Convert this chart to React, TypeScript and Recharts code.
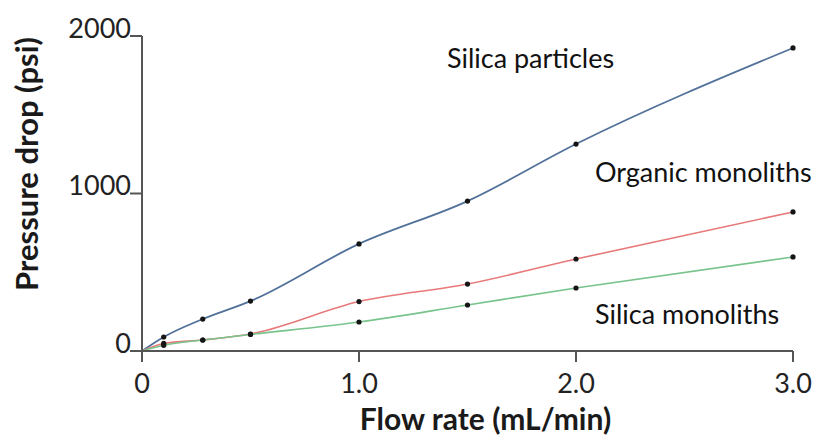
import React from "react";
import {
  LineChart,
  Line,
  XAxis,
  YAxis,
  ReferenceDot,
} from "recharts";

const flowRates = [0, 0.1, 0.28, 0.5, 1.0, 1.5, 2.0, 3.0];
const silicaParticles = [0, 89, 203, 317, 680, 952, 1314, 1924];
const organicMonoliths = [0, 48, 70, 108, 314, 425, 584, 883];
const silicaMonoliths = [0, 36, 70, 105, 184, 292, 400, 597];

const xTicks = [0, 1, 2, 3];
const yTicks = [0, 1000, 2000];

const annotations = [
  { text: "Silica particles", x: 1.405, y: 1865 },
  { text: "Organic monoliths", x: 2.087, y: 1140 },
  { text: "Silica monoliths", x: 2.087, y: 240 },
];

const data = flowRates.map((f, i) => ({
  flow: f,
  particles: silicaParticles[i],
  organic: organicMonoliths[i],
  silica: silicaMonoliths[i],
}));

const FONT = "Lato, 'Open Sans', sans-serif";
const AXIS = "#555";

const Dot = (props: any) => {
  const { cx, cy, payload } = props;
  if (payload.flow === 0) return <g />;
  return <circle cx={cx} cy={cy} r={2.6} fill="#151515" />;
};

const YTick = (props: any) => {
  const { x, y, payload } = props;
  return (
    <text
      x={x + 3}
      y={y - 9}
      textAnchor="end"
      dominantBaseline="central"
      fontSize={27}
      fontFamily={FONT}
      fill="#222"
    >
      {payload.value}
    </text>
  );
};

const XTick = (props: any) => {
  const { x, y, payload } = props;
  return (
    <text
      x={x}
      y={y + 18}
      textAnchor="middle"
      dominantBaseline="central"
      fontSize={27}
      fontFamily={FONT}
      fill="#222"
    >
      {payload.value === 0 ? "0" : payload.value.toFixed(1)}
    </text>
  );
};

const NoteLabel = (text: string) => (props: any) => {
  const { viewBox } = props;
  return (
    <text
      x={viewBox.cx ?? viewBox.x}
      y={viewBox.cy ?? viewBox.y}
      dominantBaseline="central"
      fontSize={27}
      fontFamily={FONT}
      fill="#111"
    >
      {text}
    </text>
  );
};

const XTitle = (props: any) => {
  const { viewBox } = props;
  return (
    <text
      x={viewBox.x + viewBox.width / 2 + 18}
      y={viewBox.y + 67}
      textAnchor="middle"
      dominantBaseline="central"
      fontSize={30}
      fontWeight="bold"
      fontFamily={FONT}
      fill="#1a1a1a"
    >
      Flow rate (mL/min)
    </text>
  );
};

const YTitle = (props: any) => {
  const { viewBox } = props;
  const cx = 26;
  const cy = viewBox.y + 128;
  return (
    <text
      x={cx}
      y={cy}
      transform={`rotate(-90 ${cx} ${cy})`}
      textAnchor="middle"
      dominantBaseline="central"
      fontSize={31}
      fontWeight="bold"
      fontFamily={FONT}
      fill="#1a1a1a"
    >
      Pressure drop (psi)
    </text>
  );
};

export default function App() {
  return (
    <div style={{ position: "absolute", left: 0, top: 0, background: "#fff" }}>
      <LineChart
        width={818}
        height={436}
        data={data}
        margin={{ top: 36, right: 25, bottom: 0, left: 0 }}
      >
        <XAxis
          dataKey="flow"
          type="number"
          domain={[0, 3]}
          ticks={xTicks}
          height={85}
          stroke={AXIS}
          strokeWidth={2}
          tickSize={11}
          tick={<XTick />}
          label={<XTitle />}
        />
        <YAxis
          type="number"
          domain={[0, 2000]}
          ticks={yTicks}
          width={142}
          stroke={AXIS}
          strokeWidth={2}
          tickSize={12}
          tick={<YTick />}
          label={<YTitle />}
        />
        <Line
          type="monotone"
          dataKey="particles"
          stroke="#52719a"
          strokeWidth={1.8}
          dot={<Dot />}
          isAnimationActive={false}
        />
        <Line
          type="monotone"
          dataKey="organic"
          stroke="#e8797a"
          strokeWidth={1.6}
          dot={<Dot />}
          isAnimationActive={false}
        />
        <Line
          type="monotone"
          dataKey="silica"
          stroke="#78c48c"
          strokeWidth={1.6}
          dot={<Dot />}
          isAnimationActive={false}
        />
        {annotations.map((a) => (
          <ReferenceDot
            key={a.text}
            x={a.x}
            y={a.y}
            r={0}
            stroke="none"
            label={NoteLabel(a.text)}
          />
        ))}
      </LineChart>
    </div>
  );
}
